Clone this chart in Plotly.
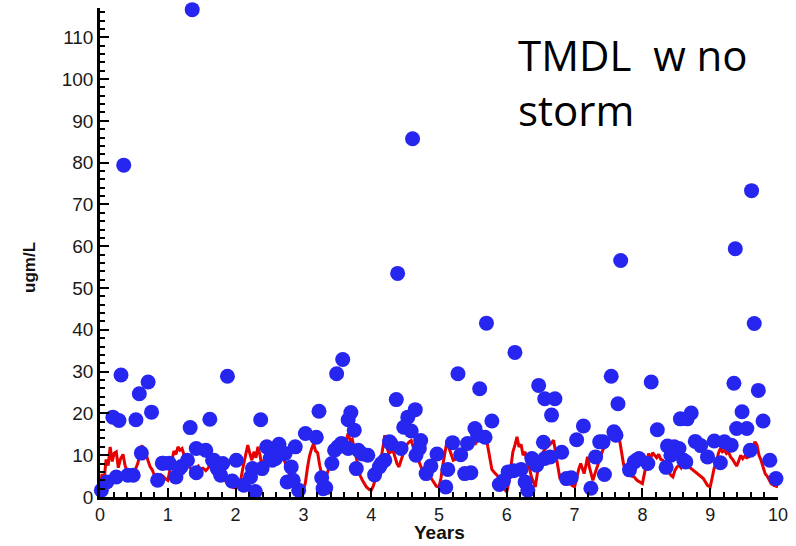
import plotly.graph_objects as go

# Observed concentrations (blue dots)
obs_years = [0.35,1.36,4.61,4.39,7.68,9.37,9.61,9.65,5.70,6.12,5.28,3.58,3.49,0.31,0.71,1.88,7.54,8.13,9.35,6.47,
             5.60,9.71,0.58,4.37,6.56,6.71,7.64,4.65,3.23,0.76,8.72,9.47,3.70,6.66,0.19,4.54,1.62,2.37,0.53,0.28,
             3.66,8.56,8.66,5.78,9.78,7.13,1.33,4.48,5.53,9.39,9.54,8.22,3.75,4.59,7.58,3.03,3.19,5.57,7.61,5.68,
             7.03,4.73,9.06,8.78,4.27,5.20,7.37,7.42,9.21,6.54,2.64,5.42,3.56,4.29,2.46,2.88,8.37,8.47,8.86,9.31,
             3.51,1.42,8.54,4.44,3.66,4.71,9.59,1.56,3.46,3.81,6.81,0.61,2.73,4.97,5.32,8.42,3.95,4.66,3.87,
             7.31,6.64,8.96,6.37,6.56,2.59,7.95,1.29,1.68,2.01,2.54,4.20,8.61,9.88,6.39,7.88,8.64,9.15,0.92,1.02,
             1.81,3.42,4.15,8.08,1.20,4.88,4.12,8.35,2.82,6.44,2.25,2.39,1.73,3.78,5.13,6.21,7.81,6.10,6.02,1.42,
             5.47,4.81,5.38,4.05,7.44,0.41,0.49,1.78,0.24,1.12,2.22,3.27,6.95,9.97,6.88,0.85,1.95,2.85,5.95,0.10,
             2.76,6.27,5.89,2.12,5.10,3.33,3.29,7.24,0.02,2.93,6.31,2.29,2.61,2.51,1.17,1.66,0.93,7.91,8.44]
obs_conc = [79.4,116.6,85.7,53.5,56.6,59.4,73.3,41.5,41.6,34.6,29.5,32.9,29.5,29.2,27.5,28.9,28.9,27.5,27.2,26.7,
            25.9,25.5,24.7,23.3,23.5,23.5,22.3,20.9,20.5,20.3,20.1,20.4,20.2,19.6,19.1,19.1,18.6,18.5,18.5,18.3,
            18.5,18.7,18.7,18.2,18.2,17.0,16.6,16.7,16.4,16.4,16.4,16.1,16.0,15.8,15.6,15.2,14.3,14.8,14.8,14.3,
            13.7,13.5,13.4,13.3,13.2,13.0,13.2,13.2,13.2,13.1,12.6,12.8,12.8,12.8,12.0,12.0,12.2,12.0,12.3,12.4,
            12.0,11.6,11.6,11.6,11.6,11.6,11.2,11.2,11.2,11.2,10.7,10.5,10.4,10.3,10.1,10.0,10.0,10.0,10.3,
            9.6,9.6,9.6,9.2,9.2,9.2,9.2,8.8,8.8,8.8,8.8,8.8,8.8,8.8,8.8,8.4,8.4,8.2,8.1,8.1,
            8.0,8.0,8.0,8.0,7.3,7.4,7.2,7.1,7.2,7.6,6.8,6.8,6.8,6.8,6.6,6.6,6.5,6.3,6.0,5.8,
            5.8,5.6,5.6,5.3,5.4,5.2,5.2,5.2,4.8,4.8,4.8,4.6,4.6,4.4,4.4,4.0,3.8,4.0,3.9,3.6,
            3.6,3.6,3.0,2.8,2.4,2.2,2.0,2.1,1.6,1.6,1.6,1.3,11.6,9.2,6.8,8.8,8.1,8.8,11.8]

# Modelled TMDL series (red line)
model_years = [0.00,0.03,0.06,0.09,0.12,0.15,0.18,0.21,0.24,0.27,0.30,0.34,0.37,0.40,0.44,0.48,0.52,0.56,0.59,0.62,
               0.65,0.68,0.71,0.74,0.77,0.80,0.83,0.87,0.90,0.93,0.96,1.00,1.03,1.06,1.09,1.12,1.15,1.18,1.21,1.24,
               1.27,1.30,1.34,1.37,1.41,1.45,1.48,1.52,1.56,1.60,1.63,1.66,1.69,1.72,1.76,1.80,1.84,1.88,1.92,1.96,
               2.00,2.04,2.08,2.12,2.15,2.18,2.21,2.24,2.27,2.30,2.33,2.36,2.39,2.42,2.45,2.48,2.51,2.54,2.57,2.60,
               2.63,2.66,2.69,2.72,2.75,2.78,2.81,2.84,2.88,2.92,2.96,3.00,3.03,3.06,3.09,3.12,3.15,3.18,3.21,3.24,
               3.27,3.30,3.33,3.36,3.39,3.42,3.45,3.48,3.51,3.54,3.57,3.60,3.63,3.66,3.69,3.72,3.75,3.78,3.81,3.84,
               3.87,3.90,3.93,3.97,4.00,4.03,4.06,4.09,4.12,4.15,4.18,4.20,4.23,4.26,4.29,4.32,4.35,4.38,4.41,4.44,
               4.47,4.50,4.53,4.56,4.59,4.62,4.65,4.68,4.71,4.74,4.77,4.80,4.84,4.88,4.92,4.96,5.00,5.03,5.06,5.09,
               5.12,5.15,5.18,5.21,5.24,5.27,5.30,5.33,5.36,5.39,5.42,5.45,5.48,5.51,5.54,5.57,5.60,5.63,5.66,5.69,
               5.72,5.75,5.78,5.81,5.84,5.87,5.90,5.93,5.96,6.00,6.03,6.06,6.09,6.12,6.15,6.18,6.21,6.24,6.27,6.30,
               6.33,6.36,6.39,6.42,6.45,6.48,6.51,6.54,6.57,6.60,6.63,6.66,6.69,6.72,6.75,6.78,6.81,6.84,6.87,6.90,
               6.93,6.96,7.00,7.03,7.06,7.09,7.12,7.14,7.17,7.19,7.22,7.25,7.27,7.30,7.33,7.36,7.39,7.42,7.45,7.48,
               7.51,7.54,7.57,7.60,7.63,7.66,7.69,7.72,7.75,7.78,7.81,7.84,7.88,7.92,7.96,8.00,8.03,8.06,8.09,8.12,
               8.15,8.18,8.21,8.24,8.27,8.30,8.33,8.36,8.39,8.42,8.45,8.48,8.51,8.54,8.57,8.60,8.63,8.66,8.69,8.72,
               8.75,8.78,8.81,8.84,8.87,8.90,8.93,8.96,9.00,9.03,9.06,9.09,9.12,9.15,9.18,9.21,9.24,9.27,9.30,9.33,
               9.36,9.39,9.42,9.45,9.48,9.51,9.54,9.57,9.60,9.63,9.66,9.69,9.72,9.75,9.78,9.81,9.84,9.87,9.90,9.94,
               9.97,10.00]
model_conc = [2.0,5.5,4.0,9.0,7.5,12.0,8.5,10.5,10.8,7.0,9.0,10.2,7.5,6.2,5.8,5.4,6.5,8.2,10.5,12.4,
              9.5,10.2,8.6,7.2,6.5,5.0,4.0,4.6,5.3,5.0,4.4,4.0,6.5,9.2,11.0,10.2,12.0,11.2,11.6,10.0,
              8.2,7.6,6.8,6.2,6.8,7.4,6.6,6.9,6.3,7.0,8.0,8.4,7.0,6.2,5.6,4.6,4.0,3.2,2.6,2.3,
              2.2,2.8,4.5,8.0,10.6,12.4,10.4,8.8,10.8,9.4,12.0,10.0,7.2,8.8,10.4,9.6,11.4,12.0,11.2,13.6,
              12.2,10.8,10.0,8.4,7.4,6.0,4.6,4.0,3.0,2.4,1.8,1.6,3.5,7.0,9.8,11.5,12.8,11.0,10.6,7.6,
              5.0,3.2,4.6,6.4,7.6,9.0,9.6,10.8,10.2,11.6,12.0,12.8,13.6,15.2,13.4,13.8,11.6,8.8,7.0,5.0,
              4.0,3.0,2.4,1.8,1.6,2.6,4.0,5.8,8.0,9.6,12.6,14.8,12.0,10.4,10.8,11.2,9.6,8.0,7.2,8.6,
              10.2,11.8,12.6,13.2,13.5,12.0,10.4,9.6,8.0,7.0,6.2,5.6,5.0,4.6,3.6,2.6,2.4,4.6,8.0,11.0,
              13.6,11.6,10.0,8.8,9.0,10.4,11.2,10.2,11.4,12.2,11.6,12.8,12.4,13.2,12.8,13.6,14.0,14.2,14.6,15.2,
              12.0,9.2,6.6,6.0,5.4,4.8,4.4,3.2,2.0,1.2,3.6,7.2,10.8,12.4,14.4,12.0,12.6,10.0,10.8,8.2,
              7.2,5.0,3.4,2.4,5.6,8.4,10.0,10.8,11.6,12.0,12.4,13.0,13.6,11.0,7.6,4.8,5.2,4.6,4.0,4.2,
              3.6,2.8,2.4,4.6,6.6,8.0,6.4,5.6,7.8,9.6,7.0,5.0,4.0,5.6,7.2,8.8,10.2,11.4,12.0,13.2,
              14.4,15.2,14.2,13.6,14.4,14.0,11.0,8.0,6.4,5.8,5.2,5.0,4.8,4.0,3.6,3.2,5.6,8.4,10.4,9.2,
              10.6,10.0,9.4,10.2,9.0,8.8,7.6,6.8,6.0,5.2,4.8,6.4,7.2,7.6,7.0,8.2,7.6,8.0,7.2,6.8,
              6.4,6.0,5.6,5.0,4.6,4.4,3.6,2.8,2.4,4.6,7.0,8.0,10.4,11.6,10.8,11.2,10.4,10.8,9.6,9.0,
              8.0,7.4,8.6,10.0,9.2,9.8,9.4,9.6,10.8,12.0,13.2,12.4,10.0,8.8,7.0,5.6,5.0,4.0,3.2,2.8,
              2.6,2.4]

x_ticks = list(range(0, 11))
y_ticks = list(range(0, 120, 10))

fig = go.Figure()
fig.add_trace(go.Scatter(x=model_years, y=model_conc, mode="lines",
                         line=dict(color="#e60000", width=3), cliponaxis=False,
                         showlegend=False, hoverinfo="skip"))
fig.add_trace(go.Scatter(x=obs_years, y=obs_conc, mode="markers",
                         marker=dict(color="#2626f0", size=15, line=dict(width=0)),
                         cliponaxis=False, showlegend=False))

fig.update_layout(
    width=796, height=546, margin=dict(l=100, r=13, t=8, b=49),
    plot_bgcolor="white", paper_bgcolor="white",
    xaxis=dict(range=[0, 10], tickmode="array", tickvals=x_ticks, ticktext=[str(v) for v in x_ticks],
               showline=True, linecolor="black", linewidth=2.5, ticks="inside",
               tickcolor="black", tickwidth=2, ticklen=9, showgrid=False, zeroline=False,
               tickfont=dict(family="Arial", size=18, color="#1a1a1a"),
               minor=dict(dtick=0.2, ticks="inside", ticklen=5, tickwidth=1.5, tickcolor="black")),
    yaxis=dict(range=[0, 117], tickmode="array", tickvals=y_ticks, ticktext=[str(v) for v in y_ticks],
               showline=True, linecolor="black", linewidth=2.5, ticks="inside",
               tickcolor="black", tickwidth=2, ticklen=9, showgrid=False, zeroline=False,
               tickfont=dict(family="Arial", size=19, color="#1a1a1a"),
               minor=dict(dtick=2, ticks="inside", ticklen=5, tickwidth=1.5, tickcolor="black")),
)

fig.add_annotation(text="<b>Years</b>", xref="paper", yref="paper", x=0.5, y=-0.05,
                   yanchor="top", xanchor="center", showarrow=False, borderpad=0,
                   font=dict(family="Arial", size=19, color="#111"))
fig.add_annotation(text="<b>ugm/L</b>", xref="paper", yref="paper", x=-0.105, y=0.47,
                   textangle=-90, xanchor="center", yanchor="middle", showarrow=False,
                   font=dict(family="Arial", size=17, color="#111"))
fig.add_annotation(text="TMDL  w no<br>storm", xref="paper", yref="paper", x=0.614, y=0.967,
                   xanchor="left", yanchor="top", align="left", showarrow=False,
                   font=dict(family="Open Sans, sans-serif", size=42, color="black"))

fig.write_html("out.html")
